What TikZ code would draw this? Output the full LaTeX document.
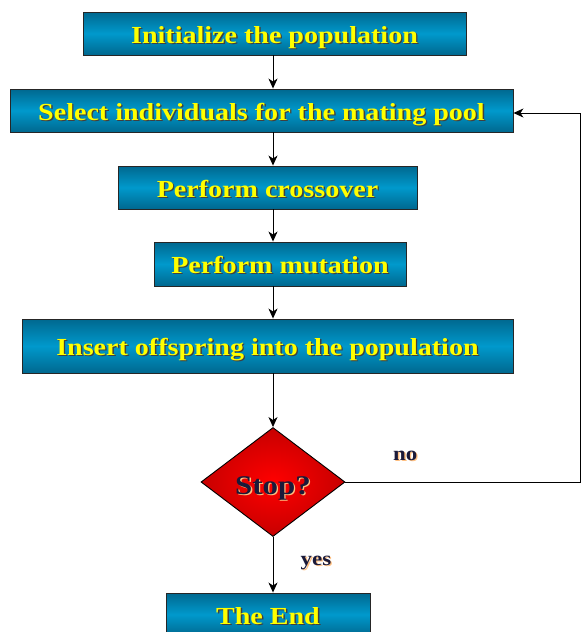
\documentclass[tikz,border=0pt]{standalone}
\usepackage{fontspec}
\setmainfont{Liberation Serif}[FakeStretch=1.145]
\usetikzlibrary{arrows.meta,shapes.geometric}
\definecolor{boxmid}{HTML}{0099CC}
\definecolor{boxedge}{HTML}{00688F}
\definecolor{txtyel}{HTML}{FFFF00}
\definecolor{navy}{HTML}{1A1A3A}
\newcommand{\shyel}[1]{\raisebox{-9.5pt}[0pt][0pt]{\rlap{\hspace{1.4pt}\raisebox{-1.4pt}{\color{black!75}#1}}{\color{txtyel}#1}}}
\newcommand{\shdark}[1]{\rlap{\hspace{1.3pt}\raisebox{-1.3pt}{\color{orange!50!white}#1}}{\color{navy}#1}}
\begin{document}
\begin{tikzpicture}[x=1pt,y=-1pt,
  flowbox/.style={draw=black!85,line width=0.9pt,inner sep=0pt,
    top color=boxedge,bottom color=boxedge,middle color=boxmid,
    font=\fontsize{24.5}{27}\selectfont\bfseries},
  decide/.style={diamond,draw=black,line width=0.9pt,inner sep=0pt,
    minimum width=144pt,minimum height=109pt,
    shading=radial,inner color=red,outer color=red!78!black,
    font=\fontsize{27}{29}\selectfont\bfseries},
  lbl/.style={inner sep=0pt,anchor=base west,font=\fontsize{20}{22}\selectfont\bfseries},
  conn/.style={draw=black,line width=0.9pt},
  arr/.style={conn,-{Stealth[length=10pt,width=9pt,inset=3pt]}}]
\useasboundingbox (0,0) rectangle (581,632);
\clip (0,0) rectangle (581,632);
\coordinate (axis) at (273,0);
\node[flowbox,minimum width=383pt,minimum height=43pt] (b1) at (274.5,33.5) {\shyel{Initialize the population}};
\node[flowbox,minimum width=503pt,minimum height=43pt] (b2) at (261.5,110.5) {\shyel{Select individuals for the mating pool}};
\node[flowbox,minimum width=299pt,minimum height=43pt] (b3) at (267.5,187.5) {\shyel{Perform crossover}};
\node[flowbox,minimum width=252pt,minimum height=44pt] (b4) at (280,264) {\shyel{Perform mutation}};
\node[flowbox,minimum width=491pt,minimum height=54pt] (b5) at (267.5,346) {\shyel{Insert offspring into the population}};
\node[decide] (d) at (273,482) {\raisebox{-12pt}[0pt][0pt]{\shdark{Stop?}}};
\node[flowbox,minimum width=204pt,minimum height=43pt] (b6) at (268,614.5) {\shyel{The End}};
\node[lbl] (no) at (393,460) {\shdark{no}};
\node[lbl] (yes) at (300.5,565.5) {\shdark{yes}};
\coordinate (cr) at (580,482);
\coordinate (ct) at (580,113);
\draw[arr] (b1.south -| axis) -- (b2.north -| axis);
\draw[arr] (b2.south -| axis) -- (b3.north -| axis);
\draw[arr] (b3.south -| axis) -- (b4.north -| axis);
\draw[arr] (b4.south -| axis) -- (b5.north -| axis);
\draw[arr] (b5.south -| axis) -- (d.north);
\draw[arr] (d.south) -- (b6.north -| axis);
\draw[arr] (d.east) -- (cr) -- (ct) -- (ct -| b2.east);
\end{tikzpicture}
\end{document}
